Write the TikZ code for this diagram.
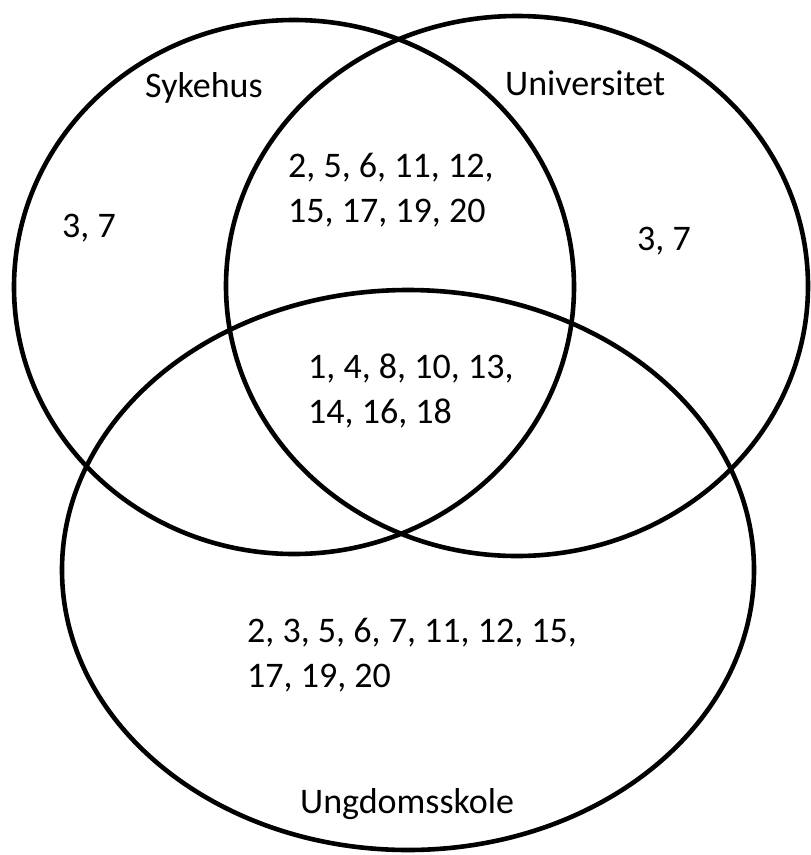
\documentclass[tikz,border=0pt]{standalone}
\usepackage{fontspec}
\setmainfont{Carlito}
\tikzset{
  setline/.style={line width=4.6pt, draw=black},
  setlabel/.style={font=\fontsize{36}{45}\selectfont, anchor=base west, inner sep=0pt, align=left},
}
\begin{document}
\begin{tikzpicture}[x=1pt,y=-1pt]
\useasboundingbox (0,0) rectangle (811,855);
\draw[setline] (294,287) ellipse (280 and 267);
\draw[setline] (517,286) ellipse (291 and 270);
\draw[setline] (408,570) ellipse (346 and 280);
\node[setlabel] (sykehus) at (145,97) {Sykehus};
\node[setlabel] (universitet) at (505,95) {Universitet};
\node[setlabel] (ungdom) at (300,813) {Ungdomsskole};
\node[setlabel] (onlyS) at (62,237) {3, 7};
\node[setlabel] (onlyU) at (637,250) {3, 7};
% last line baselines
\node[setlabel] (SU) at (288,222) {2, 5, 6, 11, 12,\\15, 17, 19, 20};
\node[setlabel] (SUG) at (308,423) {1, 4, 8, 10, 13,\\14, 16, 18};
\node[setlabel] (onlyG) at (247,687) {2, 3, 5, 6, 7, 11, 12, 15,\\17, 19, 20};
\end{tikzpicture}
\end{document}
